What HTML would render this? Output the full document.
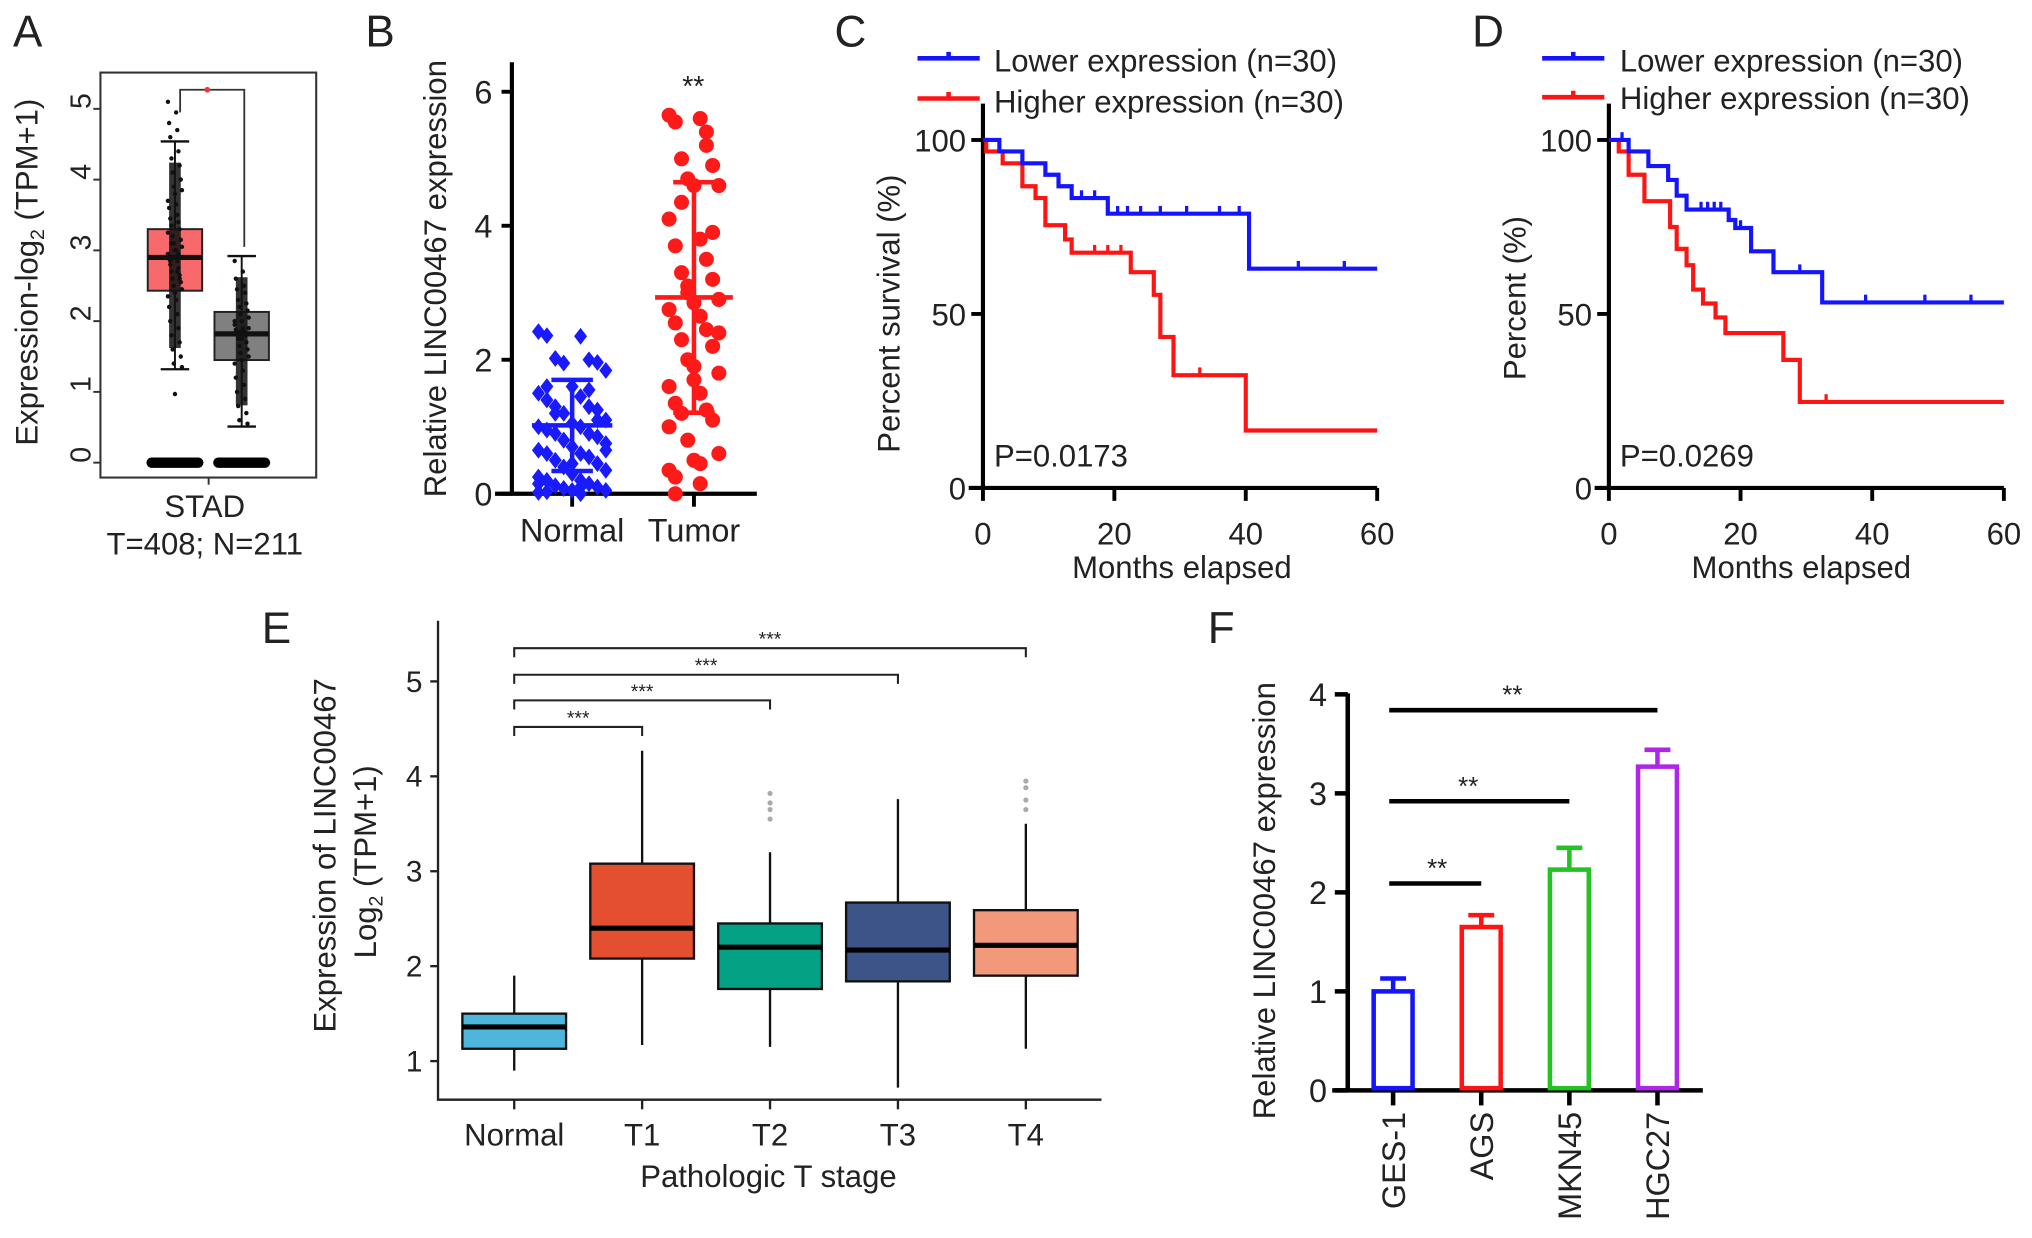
<!DOCTYPE html>
<html><head><meta charset="utf-8"><style>
html,body{margin:0;padding:0;background:#fff}
svg{display:block}
text{font-family:"Liberation Sans",Arial,sans-serif;fill:#222}
</style></head><body>
<svg id="fig" width="2032" height="1238" viewBox="0 0 1568 955.3" xmlns="http://www.w3.org/2000/svg">
<g font-size="34">
<text x="10" y="36">A</text>
<text x="282" y="36">B</text>
<text x="644" y="36">C</text>
<text x="1136" y="36">D</text>
<text x="202" y="496">E</text>
<text x="932" y="496">F</text>
</g>
<rect x="77.5" y="56" width="166.5" height="312.5" fill="none" stroke="#333" stroke-width="1.6"/>
<text transform="translate(29,210) rotate(-90)" text-anchor="middle" font-size="24">Expression-log<tspan font-size="15" dy="5">2</tspan><tspan dy="-5"> (TPM+1)</tspan></text>
<line x1="161" y1="368.5" x2="161" y2="374" stroke="#333" stroke-width="1.5"/>
<text x="158" y="399" text-anchor="middle" font-size="24">STAD</text>
<text x="158" y="428" text-anchor="middle" font-size="24">T=408; N=211</text>
<text transform="translate(344,215) rotate(-90)" text-anchor="middle" font-size="24">Relative LINC00467 expression</text>
<text x="535" y="74" text-anchor="middle" font-size="22">**</text>
<text transform="translate(694,242) rotate(-90)" text-anchor="middle" font-size="24">Percent survival (%)</text>
<text x="912" y="446" text-anchor="middle" font-size="24">Months elapsed</text>
<text x="767" y="360" font-size="24">P=0.0173</text>
<text x="767" y="55" font-size="24">Lower expression (n=30)</text>
<text x="767" y="87" font-size="24">Higher expression (n=30)</text>
<text transform="translate(1177,230) rotate(-90)" text-anchor="middle" font-size="24">Percent (%)</text>
<text x="1390" y="446" text-anchor="middle" font-size="24">Months elapsed</text>
<text x="1250" y="360" font-size="24">P=0.0269</text>
<text x="1250" y="55" font-size="24">Lower expression (n=30)</text>
<text x="1250" y="84" font-size="24">Higher expression (n=30)</text>
<text transform="translate(259,660) rotate(-90)" text-anchor="middle" font-size="24">Expression of LINC00467</text>
<text transform="translate(290,665) rotate(-90)" text-anchor="middle" font-size="24">Log<tspan font-size="15" dy="5">2</tspan><tspan dy="-5"> (TPM+1)</tspan></text>
<text x="593" y="916" text-anchor="middle" font-size="24">Pathologic T stage</text>
<text transform="translate(984,695) rotate(-90)" text-anchor="middle" font-size="24">Relative LINC00467 expression</text>
<g id="dyn"></g>
</svg>
<script>
// ---------- Panel A data ----------
const aGroups = ["Tumor", "Normal"];
const aQ1 = [2.43, 1.45];
const aMed = [2.90, 1.82];
const aQ3 = [3.30, 2.13];
const aLow = [1.32, 0.51];
const aHigh = [4.54, 2.92];
const aTicks = [0, 1, 2, 3, 4, 5];
const aTumorPts = [5.1,4.95,4.8,4.7,4.6,4.4,4.3,4.2,4.1,4.0,3.9,3.85,3.8,3.7,3.65,3.6,3.5,3.45,3.4,3.35,3.3,3.2,3.15,3.1,3.05,3.0,2.95,2.9,2.88,2.85,2.8,2.75,2.7,2.65,2.6,2.55,2.5,2.45,2.4,2.35,2.3,2.2,2.1,2.0,1.9,1.8,1.7,1.6,1.5,1.4,1.35,0.97,3.25,3.0,2.9,2.7,2.85,2.95,3.1,2.6];
const aNormalPts = [2.85,2.7,2.6,2.5,2.45,2.4,2.3,2.25,2.2,2.15,2.1,2.05,2.0,1.95,1.9,1.88,1.85,1.82,1.8,1.75,1.7,1.65,1.6,1.55,1.5,1.45,1.4,1.3,1.2,1.1,1.0,0.9,0.8,0.7,0.6,0.55,1.85,1.9,1.75,2.0];
// ---------- Panel B data ----------
const bGroups = ["Normal", "Tumor"];
const bMean = [1.02, 2.93];
const bSD = [0.68, 1.72];
const bTicks = [0, 2, 4, 6];
const bNormal = [2.42,2.35,2.36,2.0,2.02,1.96,1.95,1.84,1.6,1.5,1.45,1.4,1.3,1.3,1.25,1.2,1.1,1.05,1.0,1.0,0.95,0.9,0.9,0.85,0.8,0.75,0.7,0.65,0.6,0.6,0.55,0.5,0.45,0.4,0.35,0.3,0.25,0.2,0.2,0.15,0.12,0.1,0.08,0.05,0.05,0.02,0.0,1.6,1.55,1.2,1.1,0.8,0.65,0.45,0.15,0.1,0.03];
const bTumor = [5.65,5.6,5.55,5.2,5.0,4.9,4.7,4.6,4.6,4.1,3.8,3.7,3.5,3.3,3.2,3.0,2.9,2.85,2.75,2.65,2.55,2.45,2.3,2.2,2.0,1.8,1.7,1.6,1.5,1.35,1.25,1.2,1.1,0.8,0.6,0.5,0.35,0.15,0.0,5.4,4.35,3.9,3.1,2.4,1.9,1.0,0.45,0.25];
// ---------- Panel C/D data ----------
const kmTicksX = [0, 20, 40, 60];
const kmTicksY = [0, 50, 100];
const cLowT = [0, 2.5, 6, 9.5, 11.5, 13.5, 19, 40.5];
const cLowV = [100, 96.7, 93.3, 90, 86.7, 83.3, 78.8, 63];
const cLowCens = [15, 17, 20.5, 22, 24, 27, 31, 36, 39, 48, 55];
const cHighT = [0, 0.5, 3, 6, 8, 9.5, 12.5, 13.5, 22.5, 26, 27, 29, 40];
const cHighV = [100, 96.7, 93.3, 86.7, 83.3, 75.5, 71.4, 67.6, 62, 55.5, 43.4, 32.4, 16.5];
const cHighCens = [17, 19, 21, 33];
const dLowT = [0, 3, 6, 9, 10.3, 11.8, 18.2, 19.2, 21.6, 25, 32.4];
const dLowV = [100, 96.7, 92.5, 88.5, 84, 80, 77, 74.7, 68, 62, 53.3];
const dLowCens = [2, 14, 15, 16, 17, 20, 29, 39, 48, 55];
const dHighT = [0, 1.5, 3, 5.4, 9.3, 10.3, 11.8, 12.8, 14.3, 16.2, 17.7, 26.5, 29];
const dHighV = [100, 96.7, 90, 82.4, 75, 68.7, 64, 57, 53, 49, 44.5, 36.8, 24.7];
const dHighCens = [33];
// ---------- Panel E data ----------
const eCats = ["Normal", "T1", "T2", "T3", "T4"];
const eQ1 = [1.13, 2.08, 1.76, 1.84, 1.90];
const eMed = [1.36, 2.40, 2.20, 2.17, 2.22];
const eQ3 = [1.50, 3.08, 2.45, 2.67, 2.59];
const eLow = [0.90, 1.17, 1.15, 0.72, 1.13];
const eHigh = [1.90, 4.27, 3.20, 3.76, 3.50];
const eOutCat = [2, 2, 2, 2, 4, 4, 4, 4];
const eOutVal = [3.55, 3.65, 3.72, 3.82, 3.65, 3.75, 3.88, 3.95];
const eTicks = [1, 2, 3, 4, 5];
const eColors = ["#4db6da", "#e4502f", "#04a185", "#3c5488", "#f2997c"];
const eCompTo = [1, 2, 3, 4];
const eCompLevel = [4.52, 4.80, 5.07, 5.35];
// ---------- Panel F data ----------
const fCats = ["GES-1", "AGS", "MKN45", "HGC27"];
const fVals = [1.0, 1.65, 2.23, 3.27];
const fErr = [0.13, 0.12, 0.22, 0.17];
const fTicks = [0, 1, 2, 3, 4];
const fColors = ["#1414ff", "#ff1414", "#22c322", "#b026e8"];
const fCompTo = [1, 2, 3];
const fCompLevel = [2.09, 2.92, 3.84];

const NS = "http://www.w3.org/2000/svg";
const root = document.getElementById("dyn");
function mk(tag, attrs, txt) {
  const e = document.createElementNS(NS, tag);
  for (const k in attrs) e.setAttribute(k, attrs[k]);
  if (txt !== undefined) e.textContent = txt;
  root.appendChild(e);
  return e;
}
const yA = v => 357 - v * 54.6;
const xA = i => 135 + i * 51.5;
const yB = v => 381 - v * 51.7;
const xB = i => 441.5 + i * 94;
const yK = p => 376.5 - p * 2.685;
const xC = m => 758.5 + m * 5.07;
const xD = m => 1241.5 + m * 5.08;
const yE = v => 818.8 - (v - 1) * 73.25;
const xE = i => 396.8 + i * 98.7;
const yF = v => 841.4 - v * 76.4;
const xF = i => 1075 + i * 68;

// ===== Panel A =====
for (const t of aTicks) {
  const tk = mk("line", {x1: 72, x2: 77.5, y1: yA(t), y2: yA(t), stroke: "#333", "stroke-width": 1.5});
  
  
  const tl = mk("text", {x: 68, y: yA(t) + 8, "text-anchor": "middle", "font-size": 22, transform: `rotate(-90 62 ${yA(t)})`}, String(t));
  
  
}
const aFill = ["#f8696b", "#808080"];
aGroups.forEach((g, i) => {
  const cx = xA(i), hw = 21;
  const w = mk("line", {x1: cx, x2: cx, y1: yA(aHigh[i]), y2: yA(aLow[i]), stroke: "#111", "stroke-width": 1.5});
  
  
  for (const v of [aHigh[i], aLow[i]]) {
    const cap = mk("line", {x1: cx - 11, x2: cx + 11, y1: yA(v), y2: yA(v), stroke: "#111", "stroke-width": 1.8});
    
    
  }
  const b = mk("rect", {x: cx - hw, y: yA(aQ3[i]), width: hw * 2, height: yA(aQ1[i]) - yA(aQ3[i]), fill: aFill[i], stroke: "#222", "stroke-width": 1.5});
  
  
  const band = mk("line", {x1: cx, x2: cx, y1: yA(aHigh[i] - 0.3), y2: yA(aLow[i] + 0.3), stroke: "#111", "stroke-width": 9, opacity: 0.85});
  
  
  const pts = i === 0 ? aTumorPts : aNormalPts;
  pts.forEach((v, j) => {
    const d = mk("circle", {cx: cx + ((j * 7) % 13 - 6) * 0.9, cy: yA(v), r: 1.7, fill: "#111"});
    
    
  });
  const m = mk("line", {x1: cx - hw, x2: cx + hw, y1: yA(aMed[i]), y2: yA(aMed[i]), stroke: "#111", "stroke-width": 4});
  
  
  const z = mk("line", {x1: cx - hw + 3, x2: cx + hw - 3, y1: yA(0), y2: yA(0), stroke: "#000", "stroke-width": 8, "stroke-linecap": "round"});
  
  
});
const aBr = mk("path", {d: `M${xA(0) + 4} ${yA(4.95)} V${yA(5.27)} H${xA(1) + 2} V${yA(3.05)}`, fill: "none", stroke: "#333", "stroke-width": 1.4});


const aStar = mk("circle", {cx: 160, cy: yA(5.27), r: 2.2, fill: "#f33"});



// ===== Panel B =====
const bAx = mk("path", {d: `M395 48 V381 M382 381 H584`, fill: "none", stroke: "#000", "stroke-width": 3.2});


for (const t of bTicks) {
  const tk = mk("line", {x1: 387, x2: 395, y1: yB(t), y2: yB(t), stroke: "#000", "stroke-width": 3});
  
  
  const tl = mk("text", {x: 380, y: yB(t) + 9, "text-anchor": "end", "font-size": 25}, String(t));
  
  
}
bGroups.forEach((g, i) => {
  const cx = xB(i);
  const tk = mk("line", {x1: cx, x2: cx, y1: 381, y2: 391, stroke: "#000", "stroke-width": 3});
  
  
  const tl = mk("text", {x: cx, y: 418, "text-anchor": "middle", "font-size": 25}, g);
  
  
  const vals = i === 0 ? bNormal : bTumor;
  const col = i === 0 ? "#1a1aff" : "#ff1a1a";
  vals.forEach((v, j) => {
    const off = ((j * 5) % 9 - 4) * (i === 0 ? 6.5 : 4.8);
    const y = yB(v), x = cx + off;
    let p;
    if (i === 0) {
      p = mk("path", {d: `M${x} ${y - 6.5} L${x + 5} ${y} L${x} ${y + 6.5} L${x - 5} ${y} Z`, fill: col});
    } else {
      p = mk("circle", {cx: x, cy: y, r: 5.8, fill: col});
    }
    
    
  });
  const hw = i === 0 ? 31 : 30;
  const ml = mk("line", {x1: cx - hw, x2: cx + hw, y1: yB(bMean[i]), y2: yB(bMean[i]), stroke: col, "stroke-width": 3.5});
  
  
  const sd = mk("path", {d: `M${cx} ${yB(bMean[i] - bSD[i])} V${yB(bMean[i] + bSD[i])} M${cx - 16} ${yB(bMean[i] + bSD[i])} H${cx + 16} M${cx - 16} ${yB(bMean[i] - bSD[i])} H${cx + 16}`, fill: "none", stroke: col, "stroke-width": 3.5});
  
  
});

// ===== Panels C & D =====
function kmPanel(pfx, xs, legX, leg2Y) {
  const x0 = xs(0), x60 = xs(60);
  const ax = mk("path", {d: `M${x0} 80 V${yK(0)} M${x0 - 11} ${yK(0)} H${x60}`, fill: "none", stroke: "#000", "stroke-width": 3.2});
  
  
  for (const t of kmTicksY) {
    const tk = mk("line", {x1: x0 - 9, x2: x0, y1: yK(t), y2: yK(t), stroke: "#000", "stroke-width": 3});
    
    
    const tl = mk("text", {x: x0 - 13, y: yK(t) + 9, "text-anchor": "end", "font-size": 24}, String(t));
    
    
  }
  for (const t of kmTicksX) {
    const tk = mk("line", {x1: xs(t), x2: xs(t), y1: yK(0), y2: yK(0) + 10, stroke: "#000", "stroke-width": 3});
    
    
    const tl = mk("text", {x: xs(t), y: 420, "text-anchor": "middle", "font-size": 24}, String(t));
    
    
  }
  const lg1 = mk("path", {d: `M${legX} 45 H${legX + 48} M${legX + 24} 40 V45`, fill: "none", stroke: "#1414ff", "stroke-width": 3.5});
  
  
  const lg2 = mk("path", {d: `M${legX} ${leg2Y} H${legX + 48} M${legX + 24} ${leg2Y - 5} V${leg2Y}`, fill: "none", stroke: "#ff1414", "stroke-width": 3.5});
  
  
}
function kmCurve(pfx, name, xs, T, V, cens, col) {
  let d = `M${xs(T[0])} ${yK(V[0])}`;
  for (let i = 1; i < T.length; i++) d += ` H${xs(T[i])} V${yK(V[i])}`;
  d += ` H${xs(60)}`;
  const p = mk("path", {d: d, fill: "none", stroke: col, "stroke-width": 3.2});
  
  
  for (const c of cens) {
    let v = V[0];
    for (let i = 0; i < T.length; i++) if (T[i] <= c) v = V[i];
    const tk = mk("line", {x1: xs(c), x2: xs(c), y1: yK(v) - 6, y2: yK(v), stroke: col, "stroke-width": 2.5});
    
    
  }
}
kmPanel("c", xC, 708, 76);
kmCurve("c", "higher", xC, cHighT, cHighV, cHighCens, "#ff1414");
kmCurve("c", "lower", xC, cLowT, cLowV, cLowCens, "#1414ff");
kmPanel("d", xD, 1190, 75);
kmCurve("d", "higher", xD, dHighT, dHighV, dHighCens, "#ff1414");
kmCurve("d", "lower", xD, dLowT, dLowV, dLowCens, "#1414ff");

// ===== Panel E =====
const eAx = mk("path", {d: `M338 479 V848.6 H850`, fill: "none", stroke: "#222", "stroke-width": 1.8});


for (const t of eTicks) {
  const tk = mk("line", {x1: 332, x2: 338, y1: yE(t), y2: yE(t), stroke: "#222", "stroke-width": 1.8});
  
  
  const tl = mk("text", {x: 326, y: yE(t) + 8, "text-anchor": "end", "font-size": 23}, String(t));
  
  
}
eCats.forEach((c, i) => {
  const cx = xE(i), hw = 40;
  const tk = mk("line", {x1: cx, x2: cx, y1: 848.6, y2: 856, stroke: "#222", "stroke-width": 1.8});
  
  
  const tl = mk("text", {x: cx, y: 884, "text-anchor": "middle", "font-size": 24}, c);
  
  
  const w = mk("line", {x1: cx, x2: cx, y1: yE(eHigh[i]), y2: yE(eLow[i]), stroke: "#111", "stroke-width": 1.8});
  
  
  const b = mk("rect", {x: cx - hw, y: yE(eQ3[i]), width: hw * 2, height: yE(eQ1[i]) - yE(eQ3[i]), fill: eColors[i], stroke: "#111", "stroke-width": 1.8});
  
  
  const m = mk("line", {x1: cx - hw, x2: cx + hw, y1: yE(eMed[i]), y2: yE(eMed[i]), stroke: "#000", "stroke-width": 4});
  
  
});
eOutVal.forEach((v, j) => {
  const o = mk("circle", {cx: xE(eOutCat[j]), cy: yE(v), r: 2, fill: "#aaa"});
  
  
});
eCompTo.forEach((to, j) => {
  const y = yE(eCompLevel[j]);
  const br = mk("path", {d: `M${xE(0)} ${y + 7} V${y} H${xE(to)} V${y + 7}`, fill: "none", stroke: "#222", "stroke-width": 1.6});
  
  
  const st = mk("text", {x: (xE(0) + xE(to)) / 2, y: y - 2, "text-anchor": "middle", "font-size": 15}, "***");
  
  
});

// ===== Panel F =====
const fAx = mk("path", {d: `M1040 535 V841.4 M1028 841.4 H1314`, fill: "none", stroke: "#000", "stroke-width": 3.5});


for (const t of fTicks) {
  const tk = mk("line", {x1: 1030, x2: 1040, y1: yF(t), y2: yF(t), stroke: "#000", "stroke-width": 3.5});
  
  
  const tl = mk("text", {x: 1024, y: yF(t) + 9, "text-anchor": "end", "font-size": 25}, String(t));
  
  
}
fCats.forEach((c, i) => {
  const cx = xF(i), hw = 15;
  const tk = mk("line", {x1: cx, x2: cx, y1: 841.4, y2: 853, stroke: "#000", "stroke-width": 3.5});
  
  
  const tl = mk("text", {x: cx + 9, y: 858, "text-anchor": "end", "font-size": 25, transform: `rotate(-90 ${cx + 9} 858)`}, c);
  
  
  const er = mk("path", {d: `M${cx} ${yF(fVals[i])} V${yF(fVals[i] + fErr[i])} M${cx - 10} ${yF(fVals[i] + fErr[i])} H${cx + 10}`, fill: "none", stroke: fColors[i], "stroke-width": 3.5});
  
  
  const b = mk("rect", {x: cx - hw, y: yF(fVals[i]), width: hw * 2, height: yF(0) - yF(fVals[i]) - 1.7, fill: "#fff", stroke: fColors[i], "stroke-width": 3.5});
  
  
});
fCompTo.forEach((to, j) => {
  const y = yF(fCompLevel[j]);
  const l = mk("line", {x1: xF(0) - 3, x2: xF(to), y1: y, y2: y, stroke: "#000", "stroke-width": 3.5});
  
  
  const st = mk("text", {x: (xF(0) + xF(to)) / 2 + (j === 0 ? 0 : -10), y: y - 5, "text-anchor": "middle", "font-size": 20}, "**");
  
  
});
</script>
</body></html>
